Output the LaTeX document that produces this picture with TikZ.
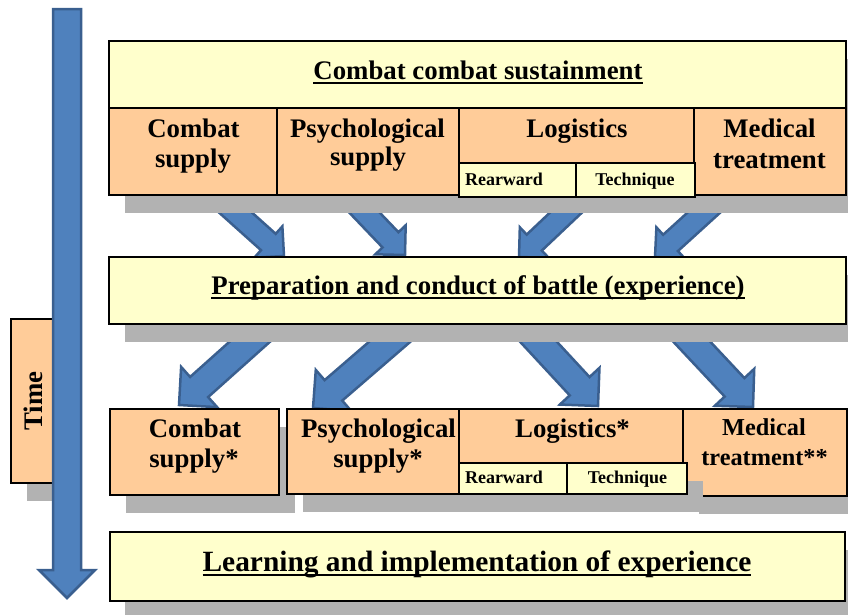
\documentclass[tikz,border=0pt]{standalone}
\usepackage{fontspec}
\setmainfont{Liberation Serif}
\usetikzlibrary{calc,fit}
\definecolor{boxyellow}{HTML}{FFFFCC}
\definecolor{boxorange}{HTML}{FFCC99}
\definecolor{shadowgray}{HTML}{B2B2B2}
\definecolor{arrowblue}{HTML}{4F81BD}
\definecolor{arrowedge}{HTML}{3A5F8F}
\newsavebox\ulbox
\newcommand\myul[1]{\sbox\ulbox{#1}\rlap{\usebox\ulbox}\rule[-5pt]{\wd\ulbox}{1.8pt}}
\newcommand\blockarrow[4]{%
  \path ($(#2)!#4!(#1)$) coordinate (hb);
  \draw[blockarr] (#2) -- ($(hb)!#4!90:(#2)$) -- ($(hb)!#3!90:(#2)$) -- ($(#1)!#3!90:(#2)$) -- ($(#1)!#3!-90:(#2)$) -- ($(hb)!#3!-90:(#2)$) -- ($(hb)!#4!-90:(#2)$) -- cycle;}
\tikzset{
  ybox/.style={draw=black, line width=1.5pt, fill=boxyellow, inner sep=0pt},
  obox/.style={draw=black, line width=1.5pt, fill=boxorange, inner sep=0pt},
  lbl/.style={anchor=base, inner sep=0pt, font=\fontsize{26.8}{30}\selectfont\bfseries},
  slbl/.style={anchor=base, inner sep=0pt, font=\fontsize{18}{21}\selectfont\bfseries},
  mlbl/.style={anchor=base, inner sep=0pt, font=\fontsize{24.3}{28}\selectfont\bfseries},
  blbl/.style={anchor=base, inner sep=0pt, font=\fontsize{29.4}{33}\selectfont\bfseries},
  blockarr/.style={fill=arrowblue, draw=arrowedge, line width=2.5pt, line join=miter},
  shadowbox/.style={fill=shadowgray}
}
\begin{document}
\begin{tikzpicture}[x=1pt, y=-1pt]
\useasboundingbox (0,0) rectangle (848,614);
% Time box and time arrow
\fill[shadowbox] (27,337) rectangle (70,501);
\node[obox, fit={(11,319) (54,483)}] (timebox) {};
\node[lbl, anchor=center, rotate=90] (timelbl) at (33,401) {Time};
\draw[blockarr] (53,9) -- (81,9) -- (81,570) -- (95,570) -- (67,598) -- (39,570) -- (53,570) -- cycle;
% block arrows
\coordinate (u1s) at (207,187); \coordinate (u1t) at (284,256);
\coordinate (u2s) at (341,188); \coordinate (u2t) at (405,255);
\coordinate (u3s) at (593,187); \coordinate (u3t) at (519,257);
\coordinate (u4s) at (732,187); \coordinate (u4t) at (655,257);
\coordinate (l1s) at (283,312); \coordinate (l1t) at (179,405);
\coordinate (l2s) at (423,313); \coordinate (l2t) at (313,408);
\coordinate (l3s) at (510,311); \coordinate (l3t) at (598,406);
\coordinate (l4s) at (663,311); \coordinate (l4t) at (753,407);
\blockarrow{u1s}{u1t}{11pt}{21pt}
\blockarrow{u2s}{u2t}{11pt}{21pt}
\blockarrow{u3s}{u3t}{11pt}{21pt}
\blockarrow{u4s}{u4t}{11pt}{21pt}
\blockarrow{l1s}{l1t}{13.5pt}{27pt}
\blockarrow{l2s}{l2t}{13.5pt}{27pt}
\blockarrow{l3s}{l3t}{13.5pt}{27pt}
\blockarrow{l4s}{l4t}{13.5pt}{27pt}
% top group
\fill[shadowbox] (125,59) rectangle (862,213);
\node[ybox, fit={(109,41) (846,108)}] (topbox) {};
\node[obox, fit={(109,108) (277,195)}] (c1) {};
\node[obox, fit={(277,108) (459,195)}] (c2) {};
\node[obox, fit={(459,108) (694,163)}] (c3) {};
\node[obox, fit={(694,108) (846,195)}] (c4) {};
\node[ybox, fit={(459,163) (576,197)}] (c3a) {};
\node[ybox, fit={(576,163) (695,197)}] (c3b) {};
\node[lbl] (ttl) at (478,79) {\myul{Combat combat sustainment}};
\node[lbl] (c1l1) at (193.5,137) {Combat};
\node[lbl] (c1l2) at (193,167) {supply};
\node[lbl] (c2l1) at (367.5,137) {Psychological};
\node[lbl] (c2l2) at (368,165) {supply};
\node[lbl] (c3l1) at (577,137) {Logistics};
\node[slbl] (c3al) at (504,185) {Rearward};
\node[slbl] (c3bl) at (635,185) {Technique};
\node[lbl] (c4l1) at (769.5,137) {Medical};
\node[lbl] (c4l2) at (769.5,168) {treatment};
% middle
\fill[shadowbox] (125,275) rectangle (862,342);
\node[ybox, fit={(109,257) (846,324)}] (midbox) {};
\node[lbl] (midl) at (478,294) {\myul{Preparation and conduct of battle (experience)}};
% bottom row
\fill[shadowbox] (126,427) rectangle (295,513);
\fill[shadowbox] (303,427) rectangle (475,512);
\fill[shadowbox] (475,427) rectangle (699,512);
\fill[shadowbox] (699,427) rectangle (863,514);
\node[obox, fit={(110,409) (279,495)}] (d1) {};
\node[obox, fit={(287,409) (459,494)}] (d2) {};
\node[obox, fit={(683,409) (847,496)}] (d4) {};
\fill[shadowbox] (583,481) rectangle (703,512);
\node[obox, fit={(459,409) (683,463)}] (d3) {};
\node[ybox, fit={(459,463) (567,494)}] (d3a) {};
\node[ybox, fit={(567,463) (687,494)}] (d3b) {};
\node[lbl] (d1l1) at (195,437) {Combat};
\node[lbl] (d1l2) at (194,467) {supply*};
\node[lbl] (d2l1) at (378.5,437) {Psychological};
\node[lbl] (d2l2) at (378,467) {supply*};
\node[lbl] (d3l1) at (572.5,437) {Logistics*};
\node[slbl] (d3al) at (504,483) {Rearward};
\node[slbl] (d3bl) at (627.5,483) {Technique};
\node[mlbl] (d4l1) at (764,435) {Medical};
\node[mlbl] (d4l2) at (764.5,465) {treatment**};
% bottom box
\fill[shadowbox] (125,550) rectangle (862,619);
\node[ybox, fit={(110,532) (845,601)}] (botbox) {};
\node[blbl] (botl) at (477,571) {\myul{Learning and implementation of experience}};
\end{tikzpicture}
\end{document}
